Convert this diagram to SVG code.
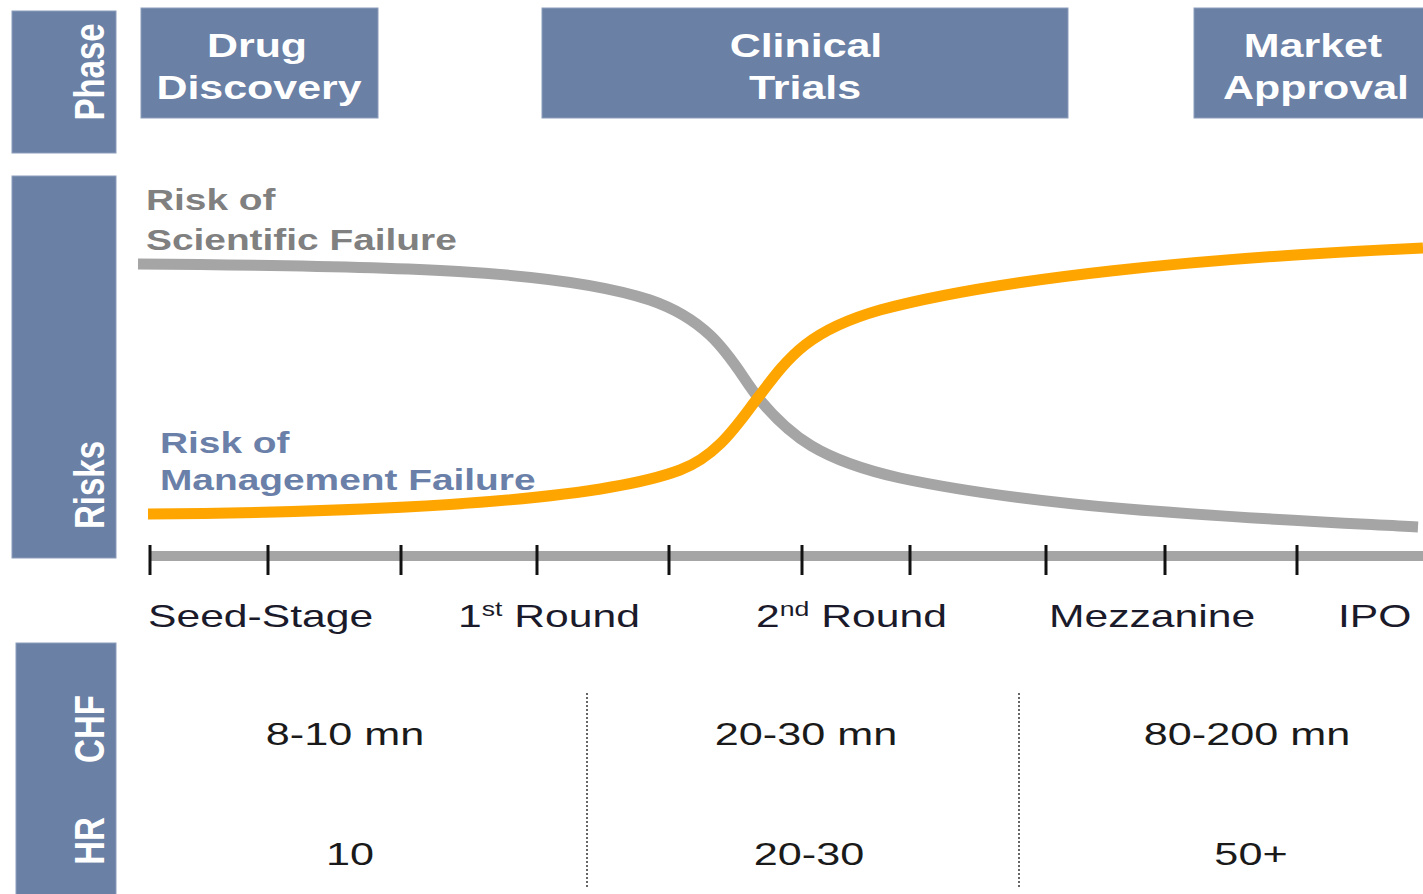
<svg xmlns="http://www.w3.org/2000/svg" width="1423" height="894" viewBox="0 0 1423 894">
<style>
.box{fill:#6a80a5;stroke:#8c9dbb;stroke-width:1}
text{font-family:"Liberation Sans",Arial,sans-serif}
.hdr{font-weight:bold;font-size:33px;fill:#ffffff;text-anchor:middle}
.side{font-weight:bold;font-size:33px;fill:#ffffff;text-anchor:middle}
.lab{font-size:32px;fill:#1a1a2a}
.val{font-size:32px;fill:#1a1a1a;text-anchor:middle}
.risk{font-weight:bold;font-size:29px}
.tick{stroke:#111;stroke-width:3}
.dot{stroke:#666;stroke-width:2;stroke-dasharray:2 2}
</style>
<rect width="1423" height="894" fill="#ffffff"/>
<g id="phase-label">
<rect class="box" x="12" y="11" width="104" height="142"/>
<text class="side" transform="translate(104,72) rotate(-90) scale(1,1.3)">Phase</text>
</g>
<g id="drug-discovery">
<rect class="box" x="141" y="8" width="237" height="110"/>
<text class="hdr" transform="translate(257,57) scale(1.3,1)">Drug</text>
<text class="hdr" transform="translate(259,99) scale(1.3,1)">Discovery</text>
</g>
<g id="clinical-trials">
<rect class="box" x="542" y="8" width="526" height="110"/>
<text class="hdr" transform="translate(806,57) scale(1.3,1)">Clinical</text>
<text class="hdr" transform="translate(805,99) scale(1.3,1)">Trials</text>
</g>
<g id="market-approval">
<rect class="box" x="1194" y="8" width="235" height="110"/>
<text class="hdr" transform="translate(1313,57) scale(1.3,1)">Market</text>
<text class="hdr" transform="translate(1316,99) scale(1.3,1)">Approval</text>
</g>
<g id="risks-label">
<rect class="box" x="12" y="176" width="104" height="382"/>
<text class="side" transform="translate(104,485) rotate(-90) scale(1,1.3)">Risks</text>
</g>
<g id="chf-hr-label">
<rect class="box" x="16" y="643" width="100" height="260"/>
<text class="side" transform="translate(104,729) rotate(-90) scale(1,1.3)">CHF</text>
<text class="side" transform="translate(104,841) rotate(-90) scale(1,1.3)">HR</text>
</g>
<g id="connectors">
<path d="M138,264 C400,266 560,270 650,300 C720,324 735,370 760,400 C790,436 820,460 900,478 C1050,510 1250,518 1418,527" fill="none" stroke="#a5a5a5" stroke-width="11"/>
<path d="M148,514 C400,512 600,500 680,470 C720,455 740,420 760,395 C790,355 810,330 880,310 C1000,278 1200,258 1423,248" fill="none" stroke="#ffa500" stroke-width="11"/>
<rect x="150" y="551" width="1273" height="10" fill="#a5a5a5"/>
<line class="tick" x1="150" y1="545" x2="150" y2="575"/>
<line class="tick" x1="268" y1="545" x2="268" y2="575"/>
<line class="tick" x1="401" y1="545" x2="401" y2="575"/>
<line class="tick" x1="537" y1="545" x2="537" y2="575"/>
<line class="tick" x1="669" y1="545" x2="669" y2="575"/>
<line class="tick" x1="802" y1="545" x2="802" y2="575"/>
<line class="tick" x1="910" y1="545" x2="910" y2="575"/>
<line class="tick" x1="1046" y1="545" x2="1046" y2="575"/>
<line class="tick" x1="1165" y1="545" x2="1165" y2="575"/>
<line class="tick" x1="1297" y1="545" x2="1297" y2="575"/>
<line class="dot" x1="587" y1="693" x2="587" y2="888"/>
<line class="dot" x1="1019" y1="693" x2="1019" y2="888"/>
</g>
<g id="risk-labels">
<text class="risk" transform="translate(146,210) scale(1.34,1)" fill="#808080">Risk of</text>
<text class="risk" transform="translate(146,250) scale(1.34,1)" fill="#808080">Scientific Failure</text>
<text class="risk" transform="translate(160,453) scale(1.34,1)" fill="#6a80a8">Risk of</text>
<text class="risk" transform="translate(160,490) scale(1.34,1)" fill="#6a80a8">Management Failure</text>
</g>
<g id="stage-labels">
<text class="lab" transform="translate(148,627) scale(1.333,1)">Seed-Stage</text>
<text class="lab" transform="translate(458,627) scale(1.333,1)">1<tspan font-size="20" dy="-11">st</tspan><tspan dy="11"> Round</tspan></text>
<text class="lab" transform="translate(756,627) scale(1.333,1)">2<tspan font-size="20" dy="-11">nd</tspan><tspan dy="11"> Round</tspan></text>
<text class="lab" transform="translate(1049,627) scale(1.333,1)">Mezzanine</text>
<text class="lab" transform="translate(1338,627) scale(1.333,1)">IPO</text>
</g>
<g id="values">
<text class="val" transform="translate(345,745) scale(1.35,1)">8-10 mn</text>
<text class="val" transform="translate(806,745) scale(1.35,1)">20-30 mn</text>
<text class="val" transform="translate(1247,745) scale(1.35,1)">80-200 mn</text>
<text class="val" transform="translate(350,865) scale(1.35,1)">10</text>
<text class="val" transform="translate(809,865) scale(1.35,1)">20-30</text>
<text class="val" transform="translate(1251,865) scale(1.35,1)">50+</text>
</g>
</svg>
